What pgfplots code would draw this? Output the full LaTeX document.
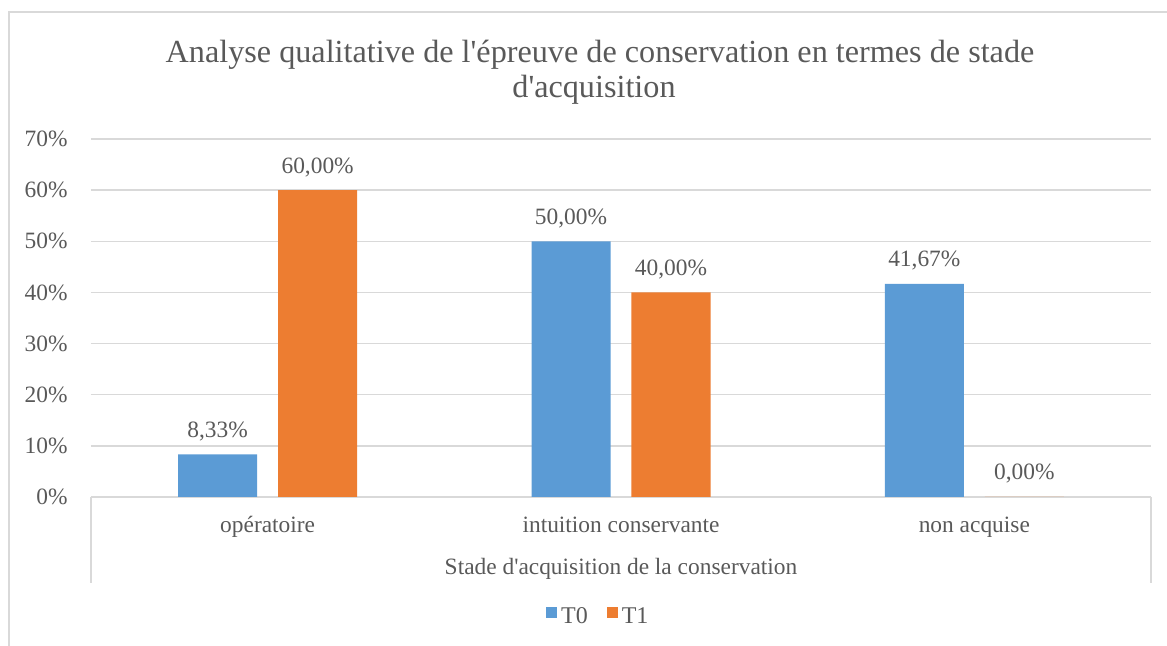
\documentclass[border=0pt]{standalone}
\usepackage{fontspec}
\setmainfont{Liberation Serif}
\usepackage{pgfplots}
\pgfplotsset{compat=1.18}
\definecolor{txt}{HTML}{595959}
\definecolor{grd}{HTML}{D9D9D9}
\definecolor{cA}{HTML}{5B9BD5}
\definecolor{cB}{HTML}{ED7D31}
\newcommand{\q}{\textquotesingle}
\begin{document}
\begin{tikzpicture}
\useasboundingbox (0,0) rectangle (583.5pt,323pt);
\draw[grd, line width=0.75pt] (4.5pt,0) -- (4.5pt,317pt) -- (583.5pt,317pt);
\node[anchor=base, text=txt, inner sep=0pt, font=\fontsize{16.1}{19}\selectfont] at (300pt,291.5pt) {Analyse qualitative de l\q{}épreuve de conservation en termes de stade};
\node[anchor=base, text=txt, inner sep=0pt, font=\fontsize{16.1}{19}\selectfont] at (297pt,274pt) {d\q{}acquisition};
\begin{axis}[
  name=ax,
  at={(45.5pt,74.5pt)}, anchor=south west,
  scale only axis, width=530pt, height=179pt,
  xmin=-0.5, xmax=2.5, ymin=0, ymax=70,
  axis line style={draw=none},
  ymajorgrids, grid style={grd, line width=0.75pt},
  ytick={0,10,20,30,40,50,60,70},
  yticklabels={0\%,10\%,20\%,30\%,40\%,50\%,60\%,70\%},
  xtick={0,1,2},
  xticklabels={opératoire, intuition conservante, non acquise},
  major tick length=0pt,
  ticklabel style={text=txt, font=\fontsize{11.7}{14}\selectfont},
  yticklabel style={anchor=east, inner sep=0pt, xshift=-11.5pt},
  xticklabel style={anchor=base, inner sep=0pt, yshift=-18pt},
  xlabel={Stade d\q{}acquisition de la conservation},
  xlabel style={at={(axis description cs:0.5,0)}, anchor=base, yshift=-39pt, inner sep=0pt, text=txt, font=\fontsize{11.7}{14}\selectfont},
  legend columns=2,
  legend image code/.code={\fill[#1] (0pt,-0.5pt) rectangle (5.5pt,5pt);},
  legend style={at={(0.4795,-0.335)}, anchor=center, draw=none, fill=none,
    font=\fontsize{12}{14}\selectfont, text=txt,
    /tikz/every even column/.append style={column sep=7.5pt}},
  nodes near coords, point meta=explicit symbolic,
  every node near coord/.append style={anchor=base, yshift=8.5pt, inner sep=0pt, text=txt, font=\fontsize{11.7}{14}\selectfont},
]
\addplot[ybar, bar width=0.2236, bar shift=-0.1415, fill=cA, draw=none,
  every node near coord/.append style={xshift=-25pt}]
  coordinates {(0,8.33) [8,33\%] (1,50) [50,00\%] (2,41.67) [41,67\%]};
\addlegendentry{T0}
\addplot[ybar, bar width=0.2236, bar shift=0.1415, fill=cB, draw=none,
  every node near coord/.append style={xshift=25pt}]
  coordinates {(0,60) [60,00\%] (1,40) [40,00\%] (2,0) [0,00\%]};
\addlegendentry{T1}
\end{axis}
\draw[grd, line width=0.75pt] (ax.south west) -- ++(0,-43pt);
\draw[grd, line width=0.75pt] (ax.south east) -- ++(0,-43pt);
\end{tikzpicture}
\end{document}
